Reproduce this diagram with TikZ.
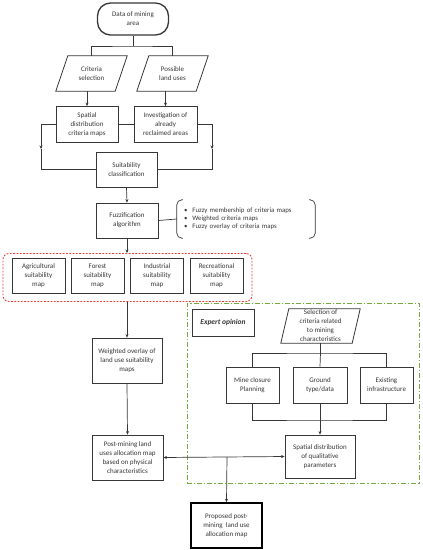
\documentclass[tikz,border=0pt]{standalone}
\usepackage{fontspec}
\setmainfont{Carlito}
\usetikzlibrary{arrows.meta}
\definecolor{ink}{RGB}{55,55,55}
\definecolor{redd}{RGB}{235,60,60}
\definecolor{grn}{RGB}{115,170,60}
\tikzset{
  box/.style={draw=ink, line width=0.8pt, align=center, inner sep=1pt, text=ink, font=\fontsize{7}{9}\selectfont},
  plain/.style={align=center, inner sep=1pt, text=ink, font=\fontsize{7}{9}\selectfont},
  ln/.style={draw=ink, line width=0.7pt},
  arr/.style={ln, -{Stealth[length=3.5pt,width=3pt]}},
  darr/.style={ln, {Stealth[length=3.5pt,width=3pt]}-{Stealth[length=3.5pt,width=3pt]}},
  para/.style={draw=ink, line width=0.8pt},
}
\begin{document}
\begin{tikzpicture}[x=1pt,y=-1pt]
\useasboundingbox (0,0) rectangle (423,550);
\fill[white] (0,0) rectangle (423,550);
% top
\node[box, rounded corners=13pt, line width=1.3pt, minimum width=71pt, minimum height=32pt] (data) at (133,19) {Data of mining\\area};
\node[plain, minimum width=71pt, minimum height=35pt] (cs) at (91.5,73.5) {Criteria\\selection};
\node[plain, minimum width=71pt, minimum height=35pt] (plu) at (172.5,73.5) {Possible\\land uses};
\draw[para] ([xshift=12pt]cs.north west) -- (cs.north east) -- ([xshift=-12pt]cs.south east) -- (cs.south west) -- cycle;
\draw[para] ([xshift=12pt]plu.north west) -- (plu.north east) -- ([xshift=-12pt]plu.south east) -- (plu.south west) -- cycle;
\node[box, minimum width=62pt, minimum height=36pt] (sdc) at (87,124.5) {Spatial\\distribution\\criteria maps};
\node[box, minimum width=63pt, minimum height=36pt] (inv) at (165.5,124.5) {Investigation of\\already\\reclaimed areas};
\node[box, minimum width=61pt, minimum height=35pt] (suit) at (126.5,169.5) {Suitability\\classification};
\node[box, minimum width=62pt, minimum height=35pt] (fuzz) at (127,220.5) {Fuzzification\\algorithm};
\node[plain, align=left, text width=124pt, inner xsep=7pt, minimum height=38pt, font=\fontsize{6.8}{8}\selectfont] (bul) at (246,219)
  {•\hspace{5pt}Fuzzy membership of criteria maps\\•\hspace{5pt}Weighted criteria maps\\•\hspace{5pt}Fuzzy overlay of criteria maps};
\draw[ln, rounded corners=5pt] ([xshift=6pt]bul.north west) -- (bul.north west) -- (bul.south west) -- ([xshift=6pt]bul.south west);
\draw[ln, rounded corners=5pt] ([xshift=-6pt]bul.north east) -- (bul.north east) -- (bul.south east) -- ([xshift=-6pt]bul.south east);
% suitability maps group
\node[draw=redd, line width=0.9pt, dash pattern=on 1.8pt off 1.5pt, rounded corners=6pt, minimum width=249pt, minimum height=48pt] (grp) at (127.5,277.5) {};
\node[box, minimum width=53pt, minimum height=35pt] (agr) at (38.5,275.5) {Agricultural\\suitability\\map};
\node[box, minimum width=53pt, minimum height=35pt] (for) at (97.5,275.5) {Forest\\suitability\\map};
\node[box, minimum width=53pt, minimum height=35pt] (ind) at (157,275.5) {Industrial\\suitability\\map};
\node[box, minimum width=53pt, minimum height=35pt] (rec) at (216.5,275.5) {Recreational\\suitability\\map};
\node[box, minimum width=70pt, minimum height=45pt] (wov) at (127,360.5) {Weighted overlay of\\land use suitability\\maps};
\node[box, minimum width=71pt, minimum height=45pt] (pm) at (127.5,457.5) {Post-mining land\\uses allocation map\\based on physical\\characteristics};
% expert group
\node[draw=grn, line width=1pt, dash pattern=on 5pt off 2pt on 1.2pt off 2pt, minimum width=232pt, minimum height=180pt] (egrp) at (303,393) {};
\node[box, minimum width=62pt, minimum height=27pt, font=\fontsize{7.5}{9}\selectfont\bfseries\itshape] (exp) at (223,322.5) {Expert opinion};
\node[plain, minimum width=79pt, minimum height=34pt] (sel) at (320.5,326) {Selection of\\criteria related\\to mining\\characteristics};
\draw[para] ([xshift=8pt]sel.north west) -- (sel.north east) -- ([xshift=-8pt]sel.south east) -- (sel.south west) -- cycle;
\node[box, minimum width=53pt, minimum height=36pt] (mcp) at (252.5,385) {Mine closure\\Planning};
\node[box, minimum width=54pt, minimum height=36pt] (gtd) at (320,385) {Ground\\type/data};
\node[box, minimum width=53pt, minimum height=36pt] (ei) at (386.5,385) {Existing\\infrastructure};
\node[box, minimum width=70pt, minimum height=43pt] (sdq) at (320,456.5) {Spatial distribution\\of qualitative\\parameters};
\node[box, line width=1.6pt, draw=black, minimum width=71pt, minimum height=45pt] (prop) at (226.5,525.5) {Proposed post-\\mining~ land use\\allocation map};
% coordinates
\coordinate (split) at (133,46);
\coordinate (lm) at (41,149);
\coordinate (rm) at (212,149);
\coordinate (selj) at (320.5,353);
\coordinate (botj) at (320,420);
\coordinate (pj) at (227,457);
% connectors
\draw[ln] (data.south) -- (split);
\draw[ln] (cs.north) |- (split) -| (plu.north);
\draw[arr] (sdc.north |- cs.south) -- (sdc.north);
\draw[arr] (inv.north |- plu.south) -- (inv.north);
\draw[ln] (sdc.east) -- (inv.west);
\draw[arr] (sdc.west) -| (lm);
\draw[ln] (lm) |- (suit.west);
\draw[arr] (inv.east) -| (rm);
\draw[ln] (rm) |- (suit.east);
\draw[arr] (suit.south) -- (fuzz.north);
\draw[ln] (fuzz.east) -- (bul.west);
\draw[arr] (fuzz.south) -- (fuzz.south |- grp.north);
\draw[arr] (wov.north |- grp.south) -- (wov.north);
\draw[arr] (wov.south) -- (pm.north);
\draw[ln] (sel.south) -- (selj);
\draw[ln] (mcp.north) |- (selj) -| (ei.north);
\draw[ln] (selj) -- (gtd.north);
\draw[ln] (mcp.south) |- (botj) -| (ei.south);
\draw[arr] (gtd.south) -- (sdq.north);
\draw[darr] (pm.east) -- (sdq.west);
\draw[arr] (pj) -- (prop.north);
\end{tikzpicture}
\end{document}
